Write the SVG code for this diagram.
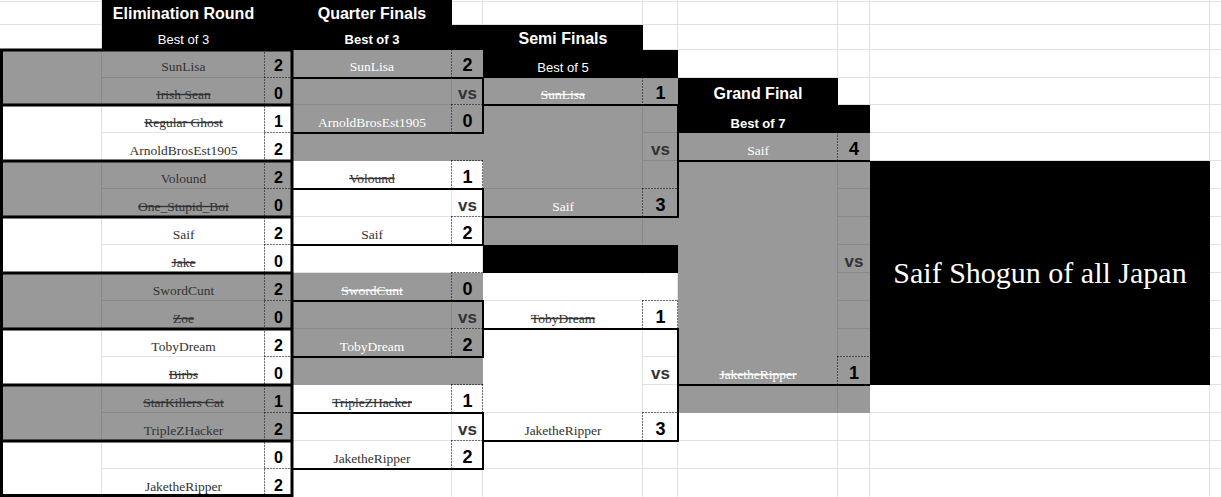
<svg xmlns="http://www.w3.org/2000/svg" width="1221" height="497" viewBox="0 0 1221 497">
<style>
.g{fill:#999999}
.k{fill:#000000}
.wm{fill:#ffffff}
.gl{stroke:#e2e2e2;stroke-width:1;fill:none}
.dl{stroke:#888888;stroke-width:1;fill:none}
.dot{stroke:#000000;stroke-width:1;stroke-dasharray:1 2;fill:none}
.b3{stroke:#000000;stroke-width:3;fill:none}
.b2{stroke:#000000;stroke-width:2;fill:none}
.n{font-family:"Liberation Serif","Times New Roman",serif;font-size:13.5px;text-anchor:middle;fill:#333333}
.w{fill:#ffffff}
.s{text-decoration:line-through}
.sc{font-family:"Liberation Sans",Arial,sans-serif;font-weight:bold;font-size:16px;text-anchor:middle;fill:#000000}
.sc2{font-family:"Liberation Sans",Arial,sans-serif;font-weight:bold;font-size:18px;text-anchor:middle;fill:#000000}
.vs{font-family:"Liberation Sans",Arial,sans-serif;font-weight:bold;font-size:17px;text-anchor:middle;fill:#333333}
.h{font-family:"Liberation Sans",Arial,sans-serif;font-weight:bold;font-size:16px;text-anchor:middle;fill:#ffffff}
.sub{font-family:"Liberation Sans",Arial,sans-serif;font-size:13px;text-anchor:middle;fill:#ffffff}
.subb{font-family:"Liberation Sans",Arial,sans-serif;font-weight:bold;font-size:13px;text-anchor:middle;fill:#ffffff}
.champ{font-family:"Liberation Serif","Times New Roman",serif;font-size:30px;text-anchor:middle;fill:#ffffff}
</style>
<rect x="0" y="0" width="1221" height="497" fill="#ffffff"/>

<g id="grid" class="gl" transform="translate(-0.5,-0.5)">
<path d="M102 0V497M265 0V497M292 0V497M452 0V497M483 0V497M643 0V497M678 0V497M838 0V497M870 0V497M1210 0V497"/>
<path d="M0 2H1221M0 25H1221M0 50H1221M0 78H1221M0 105H1221M0 133H1221M0 161H1221M0 189H1221M0 217H1221M0 245H1221M0 273H1221M0 301H1221M0 329H1221M0 357H1221M0 385H1221M0 413H1221M0 441H1221M0 469H1221"/>
</g>
<g id="merged-white">
<rect class="wm" x="0" y="107" width="101" height="52"/>
<rect class="wm" x="0" y="219" width="101" height="52"/>
<rect class="wm" x="0" y="331" width="101" height="52"/>
<rect class="wm" x="0" y="443" width="101" height="52"/>
<rect class="wm" x="293" y="246" width="189" height="26"/>
<rect class="wm" x="484" y="274" width="193" height="26"/>
<rect class="wm" x="484" y="330" width="158" height="82"/>
</g>

<g id="headers">
<rect class="k" x="102" y="0" width="190" height="50"/>
<rect class="k" x="292" y="0" width="160" height="25"/>
<rect class="k" x="292" y="25" width="191" height="25"/>
<rect class="k" x="483" y="25" width="160" height="25"/>
<rect class="k" x="483" y="50" width="195" height="28"/>
<rect class="k" x="678" y="78" width="160" height="27"/>
<rect class="k" x="678" y="105" width="192" height="28"/>
<text class="h" x="183.5" y="19">Elimination Round</text>
<text class="sub" x="183.5" y="43.5">Best of 3</text>
<text class="h" x="372" y="19">Quarter Finals</text>
<text class="subb" x="372" y="43.5">Best of 3</text>
<text class="h" x="563" y="43.5">Semi Finals</text>
<text class="sub" x="563" y="71.5">Best of 5</text>
<text class="h" x="758" y="99">Grand Final</text>
<text class="subb" x="758" y="127.5">Best of 7</text>
</g>

<g id="elim-1">
<rect class="g" x="0" y="50" width="292" height="55"/>
<path class="dl" transform="translate(-0.5,-0.5)" d="M102 50V105M102 78H265"/>
<text class="n" x="183.5" y="71">SunLisa</text><text class="sc" x="278.5" y="71">2</text>
<text class="n s" x="183.5" y="98.5">Irish Sean</text><text class="sc" x="278.5" y="98.5">0</text>
</g>
<g id="elim-2">
<text class="n s" x="183.5" y="126.5">Regular Ghost</text><text class="sc" x="278.5" y="126.5">1</text>
<text class="n" x="183.5" y="154.5">ArnoldBrosEst1905</text><text class="sc" x="278.5" y="154.5">2</text>
</g>
<g id="elim-3">
<rect class="g" x="0" y="161" width="292" height="56"/>
<path class="dl" transform="translate(-0.5,-0.5)" d="M102 161V217M102 189H265"/>
<text class="n" x="183.5" y="182.5">Volound</text><text class="sc" x="278.5" y="182.5">2</text>
<text class="n s" x="183.5" y="210.5">One_Stupid_Boi</text><text class="sc" x="278.5" y="210.5">0</text>
</g>
<g id="elim-4">
<text class="n" x="183.5" y="238.5">Saif</text><text class="sc" x="278.5" y="238.5">2</text>
<text class="n s" x="183.5" y="266.5">Jake</text><text class="sc" x="278.5" y="266.5">0</text>
</g>
<g id="elim-5">
<rect class="g" x="0" y="273" width="292" height="56"/>
<path class="dl" transform="translate(-0.5,-0.5)" d="M102 273V329M102 301H265"/>
<text class="n" x="183.5" y="294.5">SwordCunt</text><text class="sc" x="278.5" y="294.5">2</text>
<text class="n s" x="183.5" y="322.5">Zoe</text><text class="sc" x="278.5" y="322.5">0</text>
</g>
<g id="elim-6">
<text class="n" x="183.5" y="350.5">TobyDream</text><text class="sc" x="278.5" y="350.5">2</text>
<text class="n s" x="183.5" y="378.5">Birbs</text><text class="sc" x="278.5" y="378.5">0</text>
</g>
<g id="elim-7">
<rect class="g" x="0" y="385" width="292" height="56"/>
<path class="dl" transform="translate(-0.5,-0.5)" d="M102 385V441M102 413H265"/>
<text class="n s" x="183.5" y="406.5">StarKillers Cat</text><text class="sc" x="278.5" y="406.5">1</text>
<text class="n" x="183.5" y="434.5">TripleZHacker</text><text class="sc" x="278.5" y="434.5">2</text>
</g>
<g id="elim-8">
<text class="sc" x="278.5" y="462.5">0</text>
<text class="n" x="183.5" y="490.5">JaketheRipper</text><text class="sc" x="278.5" y="490.5">2</text>
</g>

<g id="qf-1">
<rect class="g" x="292" y="50" width="191" height="111"/>
<path class="dl" transform="translate(-0.5,-0.5)" d="M452 78V105M292 105H452"/>
<text class="n w" x="372" y="71">SunLisa</text><text class="sc2 w" x="467.5" y="71">2</text>
<text class="vs w" x="467.5" y="99">vs</text>
<text class="n w" x="372" y="126.5">ArnoldBrosEst1905</text><text class="sc2 w" x="467.5" y="126.5">0</text>
</g>
<g id="qf-2">
<text class="n s" x="372" y="182.5">Volound</text><text class="sc2" x="467.5" y="182.5">1</text>
<text class="vs" x="467.5" y="211">vs</text>
<text class="n" x="372" y="238.5">Saif</text><text class="sc2" x="467.5" y="238.5">2</text>
</g>
<g id="qf-3">
<rect class="g" x="292" y="273" width="191" height="112"/>
<path class="dl" transform="translate(-0.5,-0.5)" d="M452 301V329M292 329H452"/>
<text class="n w s" x="372" y="294.5">SwordCunt</text><text class="sc2 w" x="467.5" y="294.5">0</text>
<text class="vs w" x="467.5" y="323">vs</text>
<text class="n w" x="372" y="350.5">TobyDream</text><text class="sc2 w" x="467.5" y="350.5">2</text>
</g>
<g id="qf-4">
<text class="n s" x="372" y="406.5">TripleZHacker</text><text class="sc2" x="467.5" y="406.5">1</text>
<text class="vs" x="467.5" y="435">vs</text>
<text class="n" x="372" y="462.5">JaketheRipper</text><text class="sc2" x="467.5" y="462.5">2</text>
</g>

<g id="sf-1">
<rect class="g" x="483" y="78" width="195" height="167"/>
<rect class="k" x="483" y="245" width="195" height="28"/>
<path class="dl" transform="translate(-0.5,-0.5)" d="M643 105V189M643 217V245M643 133H678M643 161H678M483 189H643"/>
<text class="n w s" x="563" y="98.5">SunLisa</text><text class="sc2 w" x="660.5" y="98.5">1</text>
<text class="vs w" x="660.5" y="155">vs</text>
<text class="n w" x="563" y="210.5">Saif</text><text class="sc2 w" x="660.5" y="210.5">3</text>
</g>
<g id="sf-2">
<text class="n s" x="563" y="322.5">TobyDream</text><text class="sc2" x="660.5" y="322.5">1</text>
<text class="vs" x="660.5" y="379">vs</text>
<text class="n" x="563" y="434.5">JaketheRipper</text><text class="sc2" x="660.5" y="434.5">3</text>
</g>

<g id="grand-final">
<rect class="g" x="678" y="133" width="192" height="280"/>
<path class="dl" transform="translate(-0.5,-0.5)" d="M838 161V357M838 385V413M838 189H870M838 217H870M838 245H870M838 273H870M838 301H870M838 329H870"/>
<text class="n w" x="758" y="154.5">Saif</text><text class="sc2 w" x="854" y="154.5">4</text>
<text class="vs w" x="854" y="267">vs</text>
<text class="n w s" x="758" y="378.5">JaketheRipper</text><text class="sc2 w" x="854" y="378.5">1</text>
</g>

<g id="champion">
<rect class="k" x="870" y="161" width="340" height="224"/>
<text class="champ" x="1040" y="283">Saif Shogun of all Japan</text>
</g>

<g id="connectors">
<path class="dot" transform="translate(-0.5,-0.5)" d="M265 50V497M265 78H292M265 133H292M265 189H292M265 245H292M265 301H292M265 357H292M265 413H292M265 469H292
M452 50V78M452 50H483M452 105V133M452 105H483
M452 161V189M452 161H483M483 161V189M452 217V245M452 217H483
M452 273V301M452 273H483M452 329V357M452 329H483
M452 385V413M452 385H483M483 385V413M452 441V469M452 441H483
M643 78V105M643 78H678M643 189V217M643 189H678
M643 301V329M643 301H678M678 301V329M643 413V441M643 413H678
M838 133V161M838 133H870M838 357V385M838 357H870"/>
<path class="b3" d="M0 50H293.5M0 105H293.5M0 161H293.5M0 217H293.5M0 273H293.5M0 329H293.5M0 385H293.5M0 441H293.5M0 495.5H293.5M1.5 48.5V497M292 48.5V497"/>
<path class="b2" d="M292 78H483V133H292M292 189H483V245H292M292 301H483V357H292M292 413H483V469H292"/>
<path class="b2" d="M483 105H678V217H483M483 329H678V441H483M678 161H870M678 385H870"/>
</g>
</svg>
